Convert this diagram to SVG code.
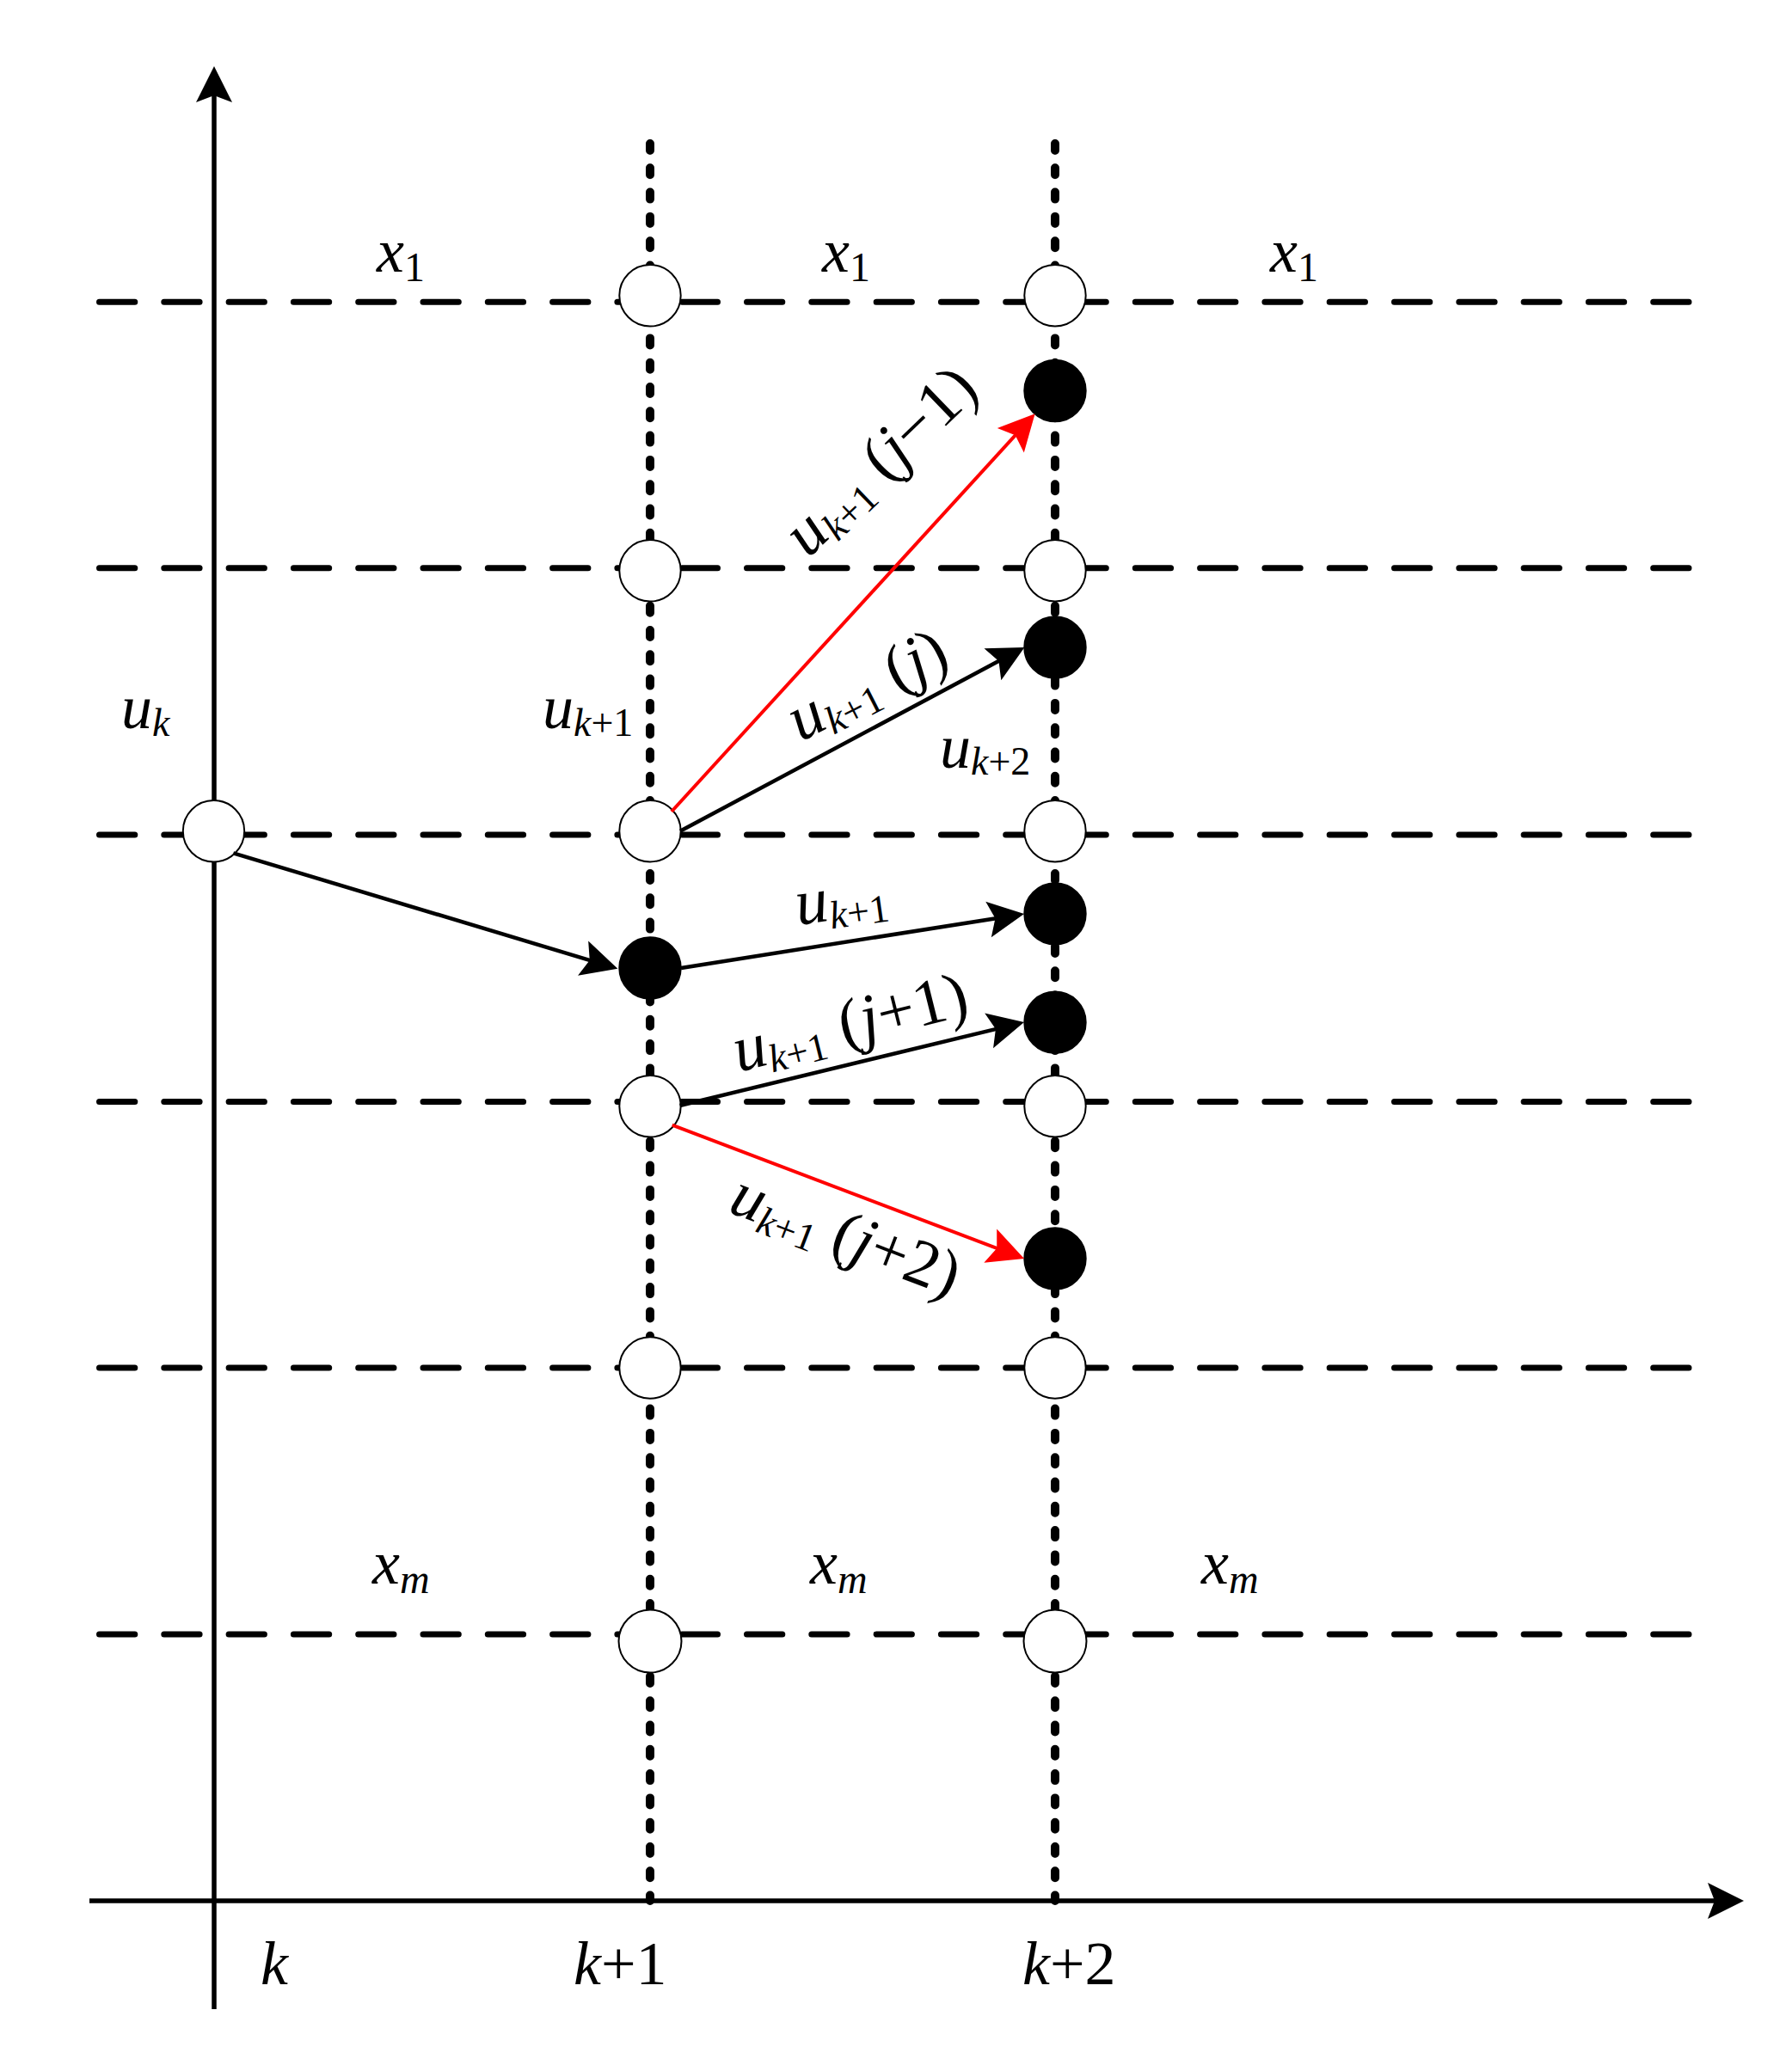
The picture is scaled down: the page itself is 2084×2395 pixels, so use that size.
<svg xmlns="http://www.w3.org/2000/svg" width="2084" height="2395" viewBox="0 0 2084 2395">
<style>
.bg{fill:#fff}
.axis{stroke:#000;stroke-width:5.5;fill:none}
.row{stroke:#000;stroke-width:7;stroke-dasharray:41.3 34;stroke-linecap:round;fill:none}
.col{stroke:#000;stroke-width:10;stroke-dasharray:8 20.3;stroke-linecap:round;fill:none}
.w{fill:#fff;stroke:#000;stroke-width:2}
.b{fill:#000;stroke:#000;stroke-width:2}
.ak{stroke:#000;stroke-width:4.5;fill:none}
.ar{stroke:#f00;stroke-width:4;fill:none}
.t{font-size:72px}
.r{font-size:76px}
.i{font-style:italic}
.s{font-size:46px}
.s48{font-size:48px}
</style>
<defs>
<marker id="hk" markerUnits="userSpaceOnUse" viewBox="-44 -23 46 46" markerWidth="46" markerHeight="46" refX="-30" refY="0" orient="auto">
<path d="M0,0 L-42,-21 L-34,0 L-42,21 Z" fill="#000"/>
</marker>
<marker id="hr" markerUnits="userSpaceOnUse" viewBox="-44 -23 46 46" markerWidth="46" markerHeight="46" refX="-30" refY="0" orient="auto">
<path d="M0,0 L-42,-21 L-34,0 L-42,21 Z" fill="#f00"/>
</marker>
</defs>
<rect class="bg" x="0" y="0" width="2084" height="2395"/>
<g id="grid">
<line class="row" x1="115.5" y1="351.3" x2="1964.5" y2="351.3"/>
<line class="row" x1="115.5" y1="660.7" x2="1964.5" y2="660.7"/>
<line class="row" x1="115.5" y1="971" x2="1964.5" y2="971"/>
<line class="row" x1="115.5" y1="1281.4" x2="1964.5" y2="1281.4"/>
<line class="row" x1="115.5" y1="1591" x2="1964.5" y2="1591"/>
<line class="row" x1="115.5" y1="1901" x2="1964.5" y2="1901"/>
<line class="col" x1="756" y1="167" x2="756" y2="2211"/>
<line class="col" x1="1227" y1="167" x2="1227" y2="2211"/>
</g>
<g id="axes">
<line class="axis" x1="249" y1="2337" x2="249" y2="107" marker-end="url(#hk)"/>
<line class="axis" x1="104" y1="2211" x2="1998" y2="2211" marker-end="url(#hk)"/>
</g>
<g id="nodes">
<g id="n-k-3"><circle class="w" cx="248.5" cy="966.7" r="35.7"/></g>
<g id="n-k1-1"><circle class="w" cx="756" cy="343.8" r="35.7"/></g>
<g id="n-k1-2"><circle class="w" cx="756" cy="663.8" r="35.7"/></g>
<g id="n-k1-3"><circle class="w" cx="756" cy="966.7" r="35.7"/></g>
<g id="n-k1-u"><circle class="b" cx="756" cy="1126" r="35.7"/></g>
<g id="n-k1-4"><circle class="w" cx="756" cy="1286.8" r="35.7"/></g>
<g id="n-k1-5"><circle class="w" cx="756" cy="1591" r="35.7"/></g>
<g id="n-k1-6"><circle class="w" cx="756" cy="1909" r="36.5"/></g>
<g id="n-k2-1"><circle class="w" cx="1227" cy="343.8" r="35.7"/></g>
<g id="n-k2-jm1"><circle class="b" cx="1227" cy="454.5" r="35.7"/></g>
<g id="n-k2-2"><circle class="w" cx="1227" cy="663.8" r="35.7"/></g>
<g id="n-k2-j"><circle class="b" cx="1227" cy="753" r="35.7"/></g>
<g id="n-k2-3"><circle class="w" cx="1227" cy="966.7" r="35.7"/></g>
<g id="n-k2-u"><circle class="b" cx="1227" cy="1062.9" r="35.7"/></g>
<g id="n-k2-jp1"><circle class="b" cx="1227" cy="1189.2" r="35.7"/></g>
<g id="n-k2-4"><circle class="w" cx="1227" cy="1286.8" r="35.7"/></g>
<g id="n-k2-jp2"><circle class="b" cx="1227" cy="1464" r="35.7"/></g>
<g id="n-k2-5"><circle class="w" cx="1227" cy="1591" r="35.7"/></g>
<g id="n-k2-6"><circle class="w" cx="1227" cy="1909" r="36.5"/></g>
</g>
<g id="connectors">
<line class="ak" x1="271.4" y1="992.3" x2="689.6" y2="1118.1" marker-end="url(#hk)"/>
<line class="ak" x1="792" y1="1126" x2="1161.4" y2="1067.7" marker-end="url(#hk)"/>
<line class="ak" x1="790.6" y1="1286" x2="1161.8" y2="1196.1" marker-end="url(#hk)"/>
<line class="ar" x1="781.7" y1="1308.6" x2="1163" y2="1453.3" marker-end="url(#hr)"/>
<line class="ar" x1="781" y1="944" x2="1183.4" y2="503.4" marker-end="url(#hr)"/>
<line class="ak" x1="791" y1="966.7" x2="1165" y2="767.1" marker-end="url(#hk)"/>
</g>
<g id="labels" font-family="Times New Roman, Liberation Serif, serif" fill="#000">
<text class="t" x="438" y="316"><tspan class="i">x</tspan><tspan class="s48" dy="11">1</tspan></text>
<text class="t" x="956" y="316"><tspan class="i">x</tspan><tspan class="s48" dy="11">1</tspan></text>
<text class="t" x="1477" y="316"><tspan class="i">x</tspan><tspan class="s48" dy="11">1</tspan></text>
<text class="t" x="433" y="1842"><tspan class="i">x</tspan><tspan class="s48 i" dy="11">m</tspan></text>
<text class="t" x="942" y="1842"><tspan class="i">x</tspan><tspan class="s48 i" dy="11">m</tspan></text>
<text class="t" x="1397" y="1842"><tspan class="i">x</tspan><tspan class="s48 i" dy="11">m</tspan></text>
<text class="t" x="141" y="847"><tspan class="i">u</tspan><tspan class="s i" dy="9">k</tspan></text>
<text class="t" x="631" y="847"><tspan class="i">u</tspan><tspan class="s i" dy="9">k</tspan><tspan class="s">+1</tspan></text>
<text class="t" x="1093" y="893"><tspan class="i">u</tspan><tspan class="s i" dy="8">k</tspan><tspan class="s">+2</tspan></text>
<text class="t" x="303" y="2308"><tspan class="i">k</tspan></text>
<text class="t" x="667" y="2308"><tspan class="i">k</tspan>+1</text>
<text class="t" x="1189" y="2308"><tspan class="i">k</tspan>+2</text>
<text class="r" transform="translate(940,650) rotate(-44)"><tspan class="i">u</tspan><tspan class="s i" dy="10">k</tspan><tspan class="s">+1</tspan><tspan dy="-10"> (</tspan><tspan class="i">j</tspan>−1)</text>
<text class="r" transform="translate(931,863) rotate(-27)"><tspan class="i">u</tspan><tspan class="s i" dy="10">k</tspan><tspan class="s">+1</tspan><tspan dy="-10"> (</tspan><tspan class="i">j</tspan>)</text>
<text class="r" transform="translate(928,1076) rotate(-8)"><tspan class="i">u</tspan><tspan class="s i" dy="10">k</tspan><tspan class="s">+1</tspan></text>
<text class="r" transform="translate(859,1247) rotate(-14)"><tspan class="i">u</tspan><tspan class="s i" dy="10">k</tspan><tspan class="s">+1</tspan><tspan dy="-10"> (</tspan><tspan class="i">j</tspan>+1)</text>
<text class="r" transform="translate(845,1409) rotate(21)"><tspan class="i">u</tspan><tspan class="s i" dy="10">k</tspan><tspan class="s">+1</tspan><tspan dy="-10"> (</tspan><tspan class="i">j</tspan>+2)</text>
</g>
</svg>
